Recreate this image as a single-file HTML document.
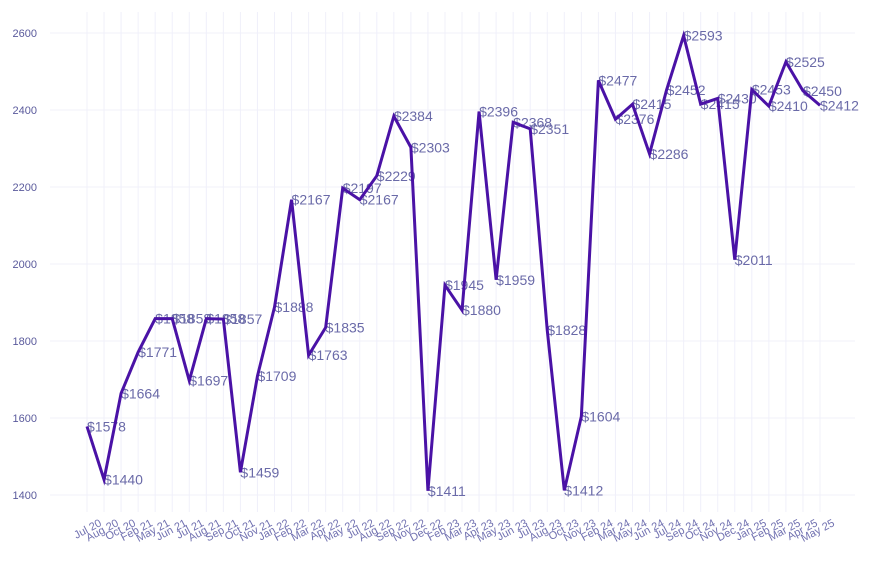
<!DOCTYPE html>
<html><head><meta charset="utf-8"><style>
html,body{margin:0;padding:0;background:#fff;}
svg{display:block;font-family:"Liberation Sans",sans-serif;}
</style></head><body>
<svg id="chart" width="873" height="565">
<g id="grid"></g>
<g id="yaxis"></g>
<g id="xaxis"></g>
<g id="labels"></g>
<g id="series"></g>
</svg>
<script>
const categories = ["Jul 20","Aug 20","Oct 20","Feb 21","May 21","Jun 21","Jul 21","Aug 21","Sep 21","Oct 21","Nov 21","Jan 22","Feb 22","Mar 22","Apr 22","May 22","Jul 22","Aug 22","Sep 22","Nov 22","Dec 22","Feb 23","Mar 23","Apr 23","May 23","Jun 23","Jul 23","Aug 23","Oct 23","Nov 23","Feb 24","Mar 24","May 24","Jun 24","Jul 24","Sep 24","Oct 24","Nov 24","Dec 24","Jan 25","Feb 25","Mar 25","Apr 25","May 25"];
const values = [1578,1440,1664,1771,1858,1858,1697,1858,1857,1459,1709,1888,2167,1763,1835,2197,2167,2229,2384,2303,1411,1945,1880,2396,1959,2368,2351,1828,1412,1604,2477,2376,2415,2286,2452,2593,2415,2430,2011,2453,2410,2525,2450,2412];
const yTicks = [1400,1600,1800,2000,2200,2400,2600];

const NS="http://www.w3.org/2000/svg";
const x0=87, x1=820, yBase=495, yTop=33, vMin=1400, vMax=2600;
function xScale(i){return x0+(x1-x0)*i/(categories.length-1);}
function yScale(v){return yBase-(v-vMin)*(yBase-yTop)/(vMax-vMin);}
function mk(tag,attrs,parent){const e=document.createElementNS(NS,tag);for(const k in attrs)e.setAttribute(k,attrs[k]);parent.appendChild(e);return e;}

const grid=document.getElementById('grid');
yTicks.forEach(t=>{
  const l=mk('line',{x1:50,x2:855,y1:yScale(t),y2:yScale(t),stroke:'#f0f0fa','stroke-width':1},grid);
  
  
});
categories.forEach((c,i)=>{
  const l=mk('line',{x1:xScale(i),x2:xScale(i),y1:12,y2:512,stroke:'#f0f0fa','stroke-width':1},grid);
  
  
});

const yaxis=document.getElementById('yaxis');
yTicks.forEach(t=>{
  const tx=mk('text',{x:37,y:yScale(t)+4,'text-anchor':'end','font-size':11,fill:'#5a5a9c'},yaxis);
  tx.textContent=t;
  
  
});

const xaxis=document.getElementById('xaxis');
categories.forEach((c,i)=>{
  const x=xScale(i), y=522;
  const tx=mk('text',{x:x,y:y,'text-anchor':'end','font-size':11,fill:'#7070b0',transform:`rotate(-28 ${x} ${y})`,dx:12,dy:10},xaxis);
  tx.textContent=c;
  
  
});

const labels=document.getElementById('labels');
values.forEach((v,i)=>{
  const tx=mk('text',{x:xScale(i),y:yScale(v)+5,'font-size':14,fill:'#6a6aa8'},labels);
  tx.textContent='$'+v;
  
  
});

const series=document.getElementById('series');
const pts=values.map((v,i)=>xScale(i)+','+yScale(v)).join(' ');
const pl=mk('polyline',{points:pts,fill:'none',stroke:'#4a12a6','stroke-width':3,'stroke-linejoin':'miter'},series);


</script>
</body></html>
